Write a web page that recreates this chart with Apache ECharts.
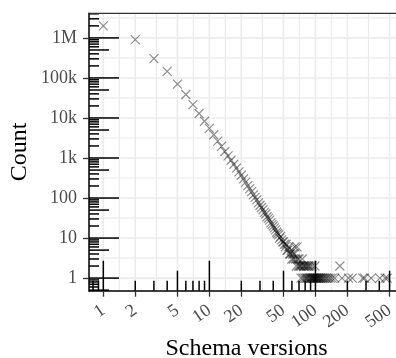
<!DOCTYPE html>
<html>
<head>
<meta charset="utf-8">
<script src="https://cdn.jsdelivr.net/npm/echarts@6/dist/echarts.min.js"></script>
<style>
  html, body { margin: 0; padding: 0; background: #fff; }
  #chart { width: 396px; height: 358px; }
</style>
</head>
<body>
<div id="chart"></div>
<script>
// number of schema versions -> how many schemas have that many versions
const versions = [
  1, 2, 3, 4, 5, 6, 7, 8, 9, 10, 11, 12, 13, 14, 15, 16, 17, 18, 19, 20,
  21, 22, 23, 24, 25, 26, 27, 28, 29, 30, 31, 32, 33, 34, 35, 36, 37, 38, 39, 40,
  41, 42, 43, 44, 45, 46, 47, 48, 49, 50, 51, 52, 53, 54, 55, 56, 57, 58, 59, 60,
  61, 62, 63, 64, 65, 66, 67, 68, 69, 70, 71, 72, 73, 74, 75, 76, 77, 78, 79, 80,
  81, 82, 83, 84, 85, 86, 87, 88, 89, 90, 91, 92, 93, 94, 95, 96, 97, 98, 99, 100,
  101, 102, 103, 105, 106, 108, 110, 111, 113, 116, 118, 121, 125, 128, 133, 138, 144, 152,
  170, 178, 205, 222, 280, 290, 335, 405, 455, 475
];
const counts = [
  2000000, 910000, 305000, 146000, 70000, 38500, 21600, 12900, 8300, 5500,
  3800, 2650, 1950, 1450, 1130, 880, 700, 560, 450, 370,
  300, 250, 205, 172, 145, 120, 104, 90, 76, 66,
  58, 51, 44, 40, 34, 31, 28, 24, 22, 20,
  18, 16, 14, 13, 12, 10, 11, 9, 8, 8,
  7, 6, 7, 5, 5, 6, 4, 4, 5, 3,
  4, 3, 4, 6, 3, 2, 6, 3, 2, 3,
  2, 2, 1, 2, 3, 1, 2, 2, 1, 2,
  1, 2, 1, 1, 2, 2, 1, 1, 2, 1,
  1, 1, 2, 1, 1, 1, 1, 1, 2, 1,
  1, 1, 1, 1, 1, 1, 1, 1, 1, 1, 1, 1, 1, 1, 1, 1, 1, 1,
  2, 1, 1, 1, 1, 1, 1, 1, 1, 1
];

const xBreaks = [1, 2, 5, 10, 20, 50, 100, 200, 500];
const yBreaks = [1, 10, 100, 1000, 10000, 100000, 1000000];
const yLabels = ['1', '10', '100', '1k', '10k', '100k', '1M'];
const tickDecades = [-1, 0, 1, 2, 3, 4, 5, 6];
const tickMantissas = [1, 2, 3, 4, 5, 6, 7, 8, 9];

const log10 = Math.log10;
const xLim = [-0.135, 2.835];
const yLim = [-0.315, 6.615];
const serif = 'Liberation Serif';

const xMajor = xBreaks.map(log10);
const yMajor = yBreaks.map(log10);
const xMinor = xMajor.slice(1).map((v, i) => (v + xMajor[i]) / 2);
const yMinor = yMajor.map(v => v + 0.5).filter(v => v < yLim[1]);

// annotation_logticks style marks: 1..9 x 10^k
const logTicks = [];
tickDecades.forEach(d => tickMantissas.forEach(m => logTicks.push({ v: d + log10(m), m: m })));

const points = versions.map((n, i) => [log10(n), log10(counts[i])]);

function seg(x1, y1, x2, y2, color, w) {
  return { type: 'line', shape: { x1: x1, y1: y1, x2: x2, y2: y2 }, style: { stroke: color, lineWidth: w } };
}

function renderGrid(params, api) {
  const cs = params.coordSys;
  const top = cs.y, bottom = cs.y + cs.height, left = cs.x, right = cs.x + cs.width;
  const kids = [];
  xMinor.forEach(v => { const x = api.coord([v, 0])[0]; kids.push(seg(x, top, x, bottom, '#ebebeb', 1.2)); });
  yMinor.forEach(v => { const y = api.coord([0, v])[1]; kids.push(seg(left, y, right, y, '#ebebeb', 1.2)); });
  xMajor.forEach(v => { const x = api.coord([v, 0])[0]; kids.push(seg(x, top, x, bottom, '#ebebeb', 1.6)); });
  yMajor.forEach(v => { const y = api.coord([0, v])[1]; kids.push(seg(left, y, right, y, '#ebebeb', 1.6)); });
  return { type: 'group', children: kids };
}

function renderTicks(params, api) {
  const cs = params.coordSys;
  const top = cs.y, bottom = cs.y + cs.height, left = cs.x, right = cs.x + cs.width;
  const kids = [];
  logTicks.forEach(t => {
    const len = t.m === 1 ? 30 : (t.m === 5 ? 20 : 10);
    if (t.v >= xLim[0] && t.v <= xLim[1]) {
      const x = api.coord([t.v, 0])[0];
      kids.push(seg(x, bottom, x, bottom - len, '#000', 1.5));
    }
    if (t.v >= yLim[0] && t.v <= yLim[1]) {
      const y = api.coord([0, t.v])[1];
      kids.push(seg(left, y, left + len, y, '#000', 1.5));
    }
  });
  // panel border (top / right), left and bottom come from the axis lines
  kids.push(seg(left, top, right, top, '#333', 1.3));
  kids.push(seg(right, top, right, bottom, '#333', 1.3));
  return { type: 'group', children: kids };
}

const chart = echarts.init(document.getElementById('chart'));
chart.setOption({
  animation: false,
  grid: { left: 89, right: -8, top: 13.3, bottom: 67.3, outerBoundsMode: 'none', containLabel: false },
  xAxis: {
    type: 'value',
    min: xLim[0],
    max: xLim[1],
    name: 'Schema versions',
    nameLocation: 'middle',
    nameGap: 46,
    nameMoveOverlap: false,
    nameTextStyle: { fontFamily: serif, fontSize: 24, color: '#000' },
    axisLine: { show: true, onZero: false, lineStyle: { color: '#000', width: 1.5 } },
    axisTick: { show: true, customValues: xMajor, length: 6, lineStyle: { color: '#333', width: 1.3 } },
    axisLabel: {
      customValues: xMajor,
      rotate: 35,
      margin: 18,
      fontFamily: serif,
      fontSize: 18,
      color: '#4d4d4d',
      formatter: v => String(Math.round(Math.pow(10, v)))
    },
    splitLine: { show: false }
  },
  yAxis: {
    type: 'value',
    min: yLim[0],
    max: yLim[1],
    name: 'Count',
    nameLocation: 'middle',
    nameGap: 57,
    nameRotate: 90,
    nameMoveOverlap: false,
    nameTextStyle: { fontFamily: serif, fontSize: 24, color: '#000' },
    axisLine: { show: true, onZero: false, lineStyle: { color: '#000', width: 1.5 } },
    axisTick: { show: true, customValues: yMajor, length: 6, lineStyle: { color: '#333', width: 1.3 } },
    axisLabel: {
      customValues: yMajor,
      margin: 12,
      fontFamily: serif,
      fontSize: 18,
      color: '#4d4d4d',
      formatter: v => {
        const i = yMajor.findIndex(b => Math.abs(b - v) < 1e-6);
        return i >= 0 ? yLabels[i] : '';
      }
    },
    splitLine: { show: false }
  },
  series: [
    {
      type: 'custom',
      renderItem: renderGrid,
      data: [[0, 0]],
      z: 0,
      silent: true,
      clip: false
    },
    {
      type: 'scatter',
      data: points,
      symbol: 'path://M0,0L10,10M10,0L0,10',
      symbolSize: 9,
      itemStyle: { color: 'rgba(0,0,0,0)', borderColor: 'rgba(0,0,0,0.55)', borderWidth: 1.2 },
      z: 2,
      silent: true
    },
    {
      type: 'custom',
      renderItem: renderTicks,
      data: [[0, 0]],
      z: 3,
      silent: true,
      clip: false
    }
  ]
});
</script>
</body>
</html>
